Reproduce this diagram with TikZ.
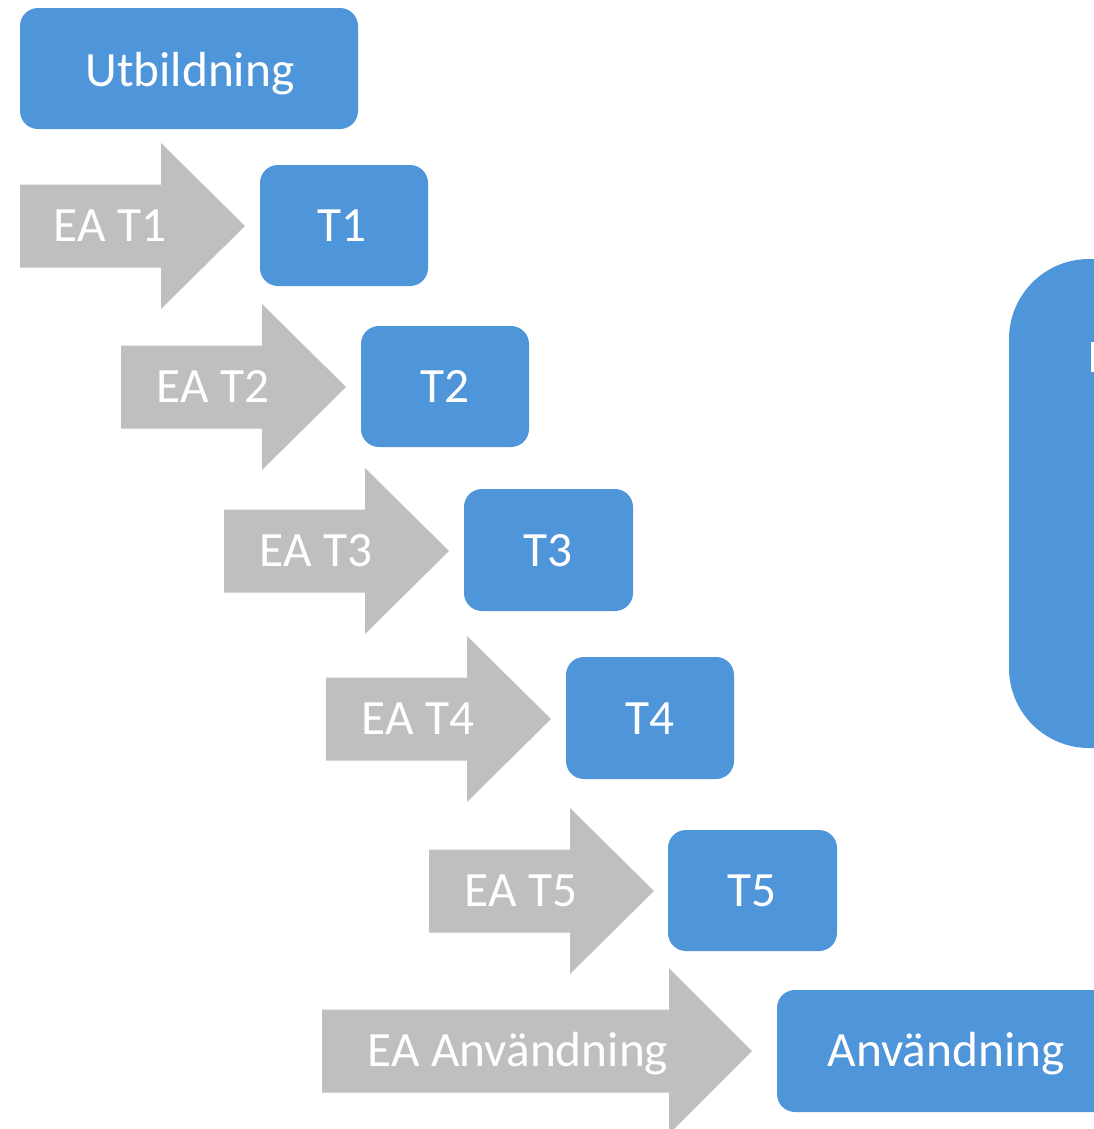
\documentclass[tikz,border=0pt]{standalone}
\usepackage{fontspec}
\setmainfont{Carlito}
\definecolor{boxblue}{HTML}{4F95D9}
\definecolor{arrgrey}{HTML}{BFBFBF}
\tikzset{
  bluebox/.style={fill=boxblue, rounded corners=13.5pt},
  greyarrow/.style={fill=arrgrey},
  lbl/.style={text=white, font=\fontsize{37}{40}\selectfont, inner sep=0pt, anchor=base}
}
\newcommand{\eaarrow}[4]{% #1 x left, #2 x head start, #3 x tip, #4 y center
  \fill[greyarrow] (#1,#4-41.5) -- (#2,#4-41.5) -- (#2,#4-83) -- (#3,#4) -- (#2,#4+83) -- (#2,#4+41.5) -- (#1,#4+41.5) -- cycle;}
\begin{document}
\begin{tikzpicture}[x=0.75pt,y=-0.75pt]
\useasboundingbox (0,0) rectangle (1094,1129);
\begin{scope}
\clip (0,0) rectangle (1094,1129);
% big right shape
\fill[boxblue, rounded corners=60pt] (1009,259) rectangle (1200,748);
\fill[white] (1091,342) rectangle (1096,372);
% Utbildning
\fill[bluebox] (20,8) rectangle (358,129);
\node[lbl] (utb) at (190,86) {Utbildning};
% arrows and boxes
\eaarrow{20}{161}{245}{226}
\node[lbl] (ea1) at (110,241) {EA T1};
\fill[bluebox] (260,165) rectangle (428,286);
\node[lbl] (t1) at (342,241) {T1};

\eaarrow{121}{262}{346}{387}
\node[lbl] (ea2) at (213,402) {EA T2};
\fill[bluebox] (361,326) rectangle (529,447);
\node[lbl] (t2) at (445,402) {T2};

\eaarrow{224}{365}{449}{551}
\node[lbl] (ea3) at (316,566) {EA T3};
\fill[bluebox] (464,489) rectangle (633,611);
\node[lbl] (t3) at (548,566) {T3};

\eaarrow{326}{467}{551}{719}
\node[lbl] (ea4) at (418,734) {EA T4};
\fill[bluebox] (566,657) rectangle (734,779);
\node[lbl] (t4) at (650,734) {T4};

\eaarrow{429}{570}{654}{891}
\node[lbl] (ea5) at (521,906) {EA T5};
\fill[bluebox] (668,830) rectangle (837,951);
\node[lbl] (t5) at (752,906) {T5};

\eaarrow{322}{669}{752}{1051}
\node[lbl] (ea6) at (518,1066) {EA Användning};
\fill[bluebox] (777,990) rectangle (1200,1112);
\node[lbl] (anv) at (946,1066) {Användning};
\end{scope}
\end{tikzpicture}
\end{document}
